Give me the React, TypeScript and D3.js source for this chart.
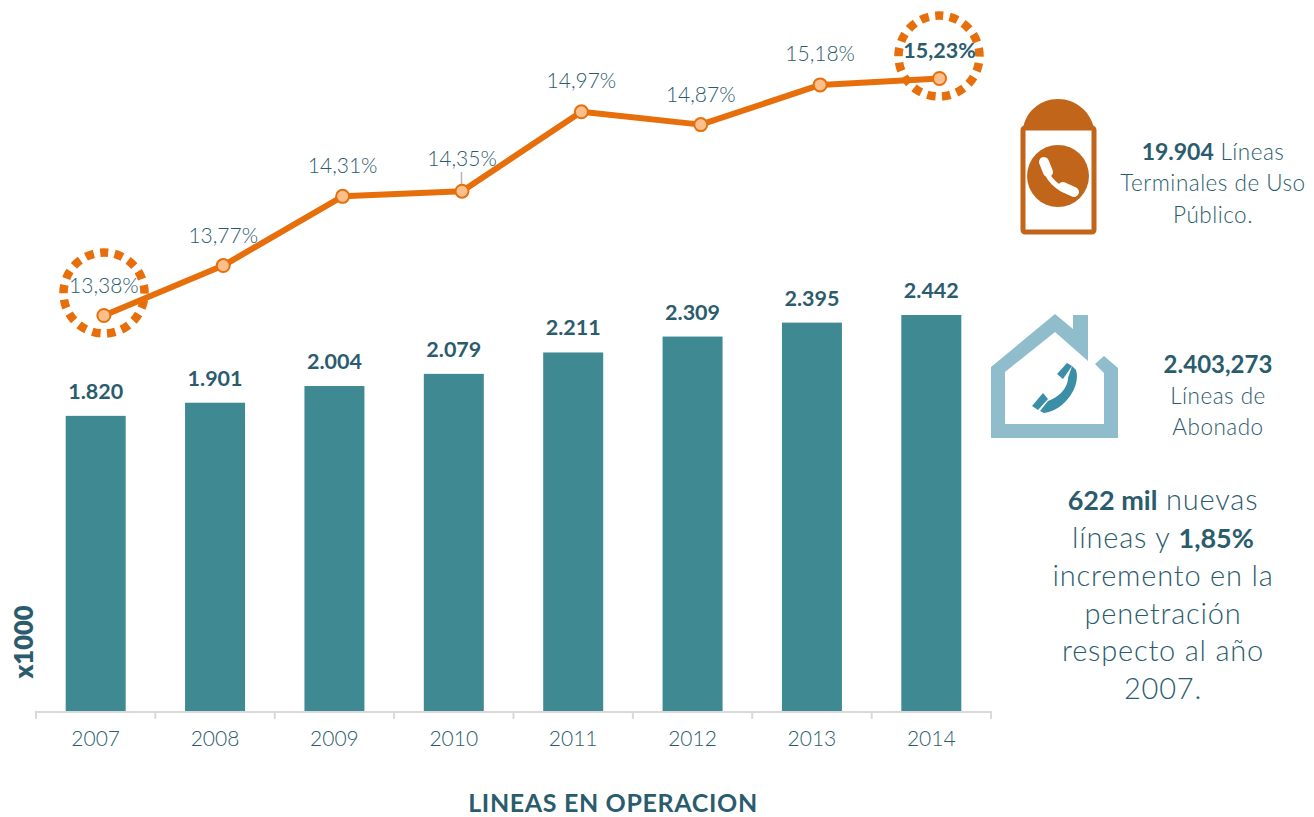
import React from "react";
import * as d3 from "d3";

const years = ["2007", "2008", "2009", "2010", "2011", "2012", "2013", "2014"];
const lines = [1820, 1901, 2004, 2079, 2211, 2309, 2395, 2442];
const lineLabels = ["1.820", "1.901", "2.004", "2.079", "2.211", "2.309", "2.395", "2.442"];
const penetration = [13.38, 13.77, 14.31, 14.35, 14.97, 14.87, 15.18, 15.23];
const penetrationLabels = ["13,38%", "13,77%", "14,31%", "14,35%", "14,97%", "14,87%", "15,18%", "15,23%"];
const labelDy = [-23, -23, -23, -25, -24, -23, -24, -21];

const FONT = "Lato, 'Open Sans', sans-serif";
const INK = "#2b5c6d";
const BAR = "#3f8a92";
const ORANGE = "#e76f0b";

function Ring({ cx, cy }: { cx: number; cy: number }) {
  const r = 40.5;
  const period = (2 * Math.PI * r) / 17;
  return (
    <circle cx={cx} cy={cy} r={r} fill="none" stroke={ORANGE} strokeWidth={8.5}
      strokeDasharray={`8.5 ${period - 8.5}`} strokeDashoffset={4.25}
      transform={`rotate(-90 ${cx} ${cy})`} />
  );
}

export default function App() {
  const x = d3.scaleBand<string>().domain(years).range([36, 991]).paddingInner(0).paddingOuter(0);
  const bw = x.bandwidth();
  const y = d3.scaleLinear().domain([0, 2442]).range([711, 315]);
  const yp = d3.scaleLinear().domain([13.38, 15.23]).range([315.5, 78.5]);
  const cx = (yr: string) => (x(yr) as number) + bw / 2;
  const lx = (yr: string) => cx(yr) + 8.2;
  const line = d3.line<number>().x((_, i) => lx(years[i])).y((d) => yp(d));
  const ticks = d3.range(0, years.length + 1).map((i) => 36 + i * bw);

  return (
    <svg width={1314} height={817} style={{ position: "absolute", left: 0, top: 0, fontFamily: FONT }}>
      <rect width={1314} height={817} fill="#fff" />
      {years.map((yr, i) => (
        <rect key={yr} x={cx(yr) - 30} y={y(lines[i])} width={60} height={711 - y(lines[i])} fill={BAR} />
      ))}
      <path d={`M36 719V712H991V719`} fill="none" stroke="#d9d9d9" strokeWidth={2} />
      {ticks.slice(1, -1).map((t) => (
        <line key={t} x1={t} x2={t} y1={712} y2={719} stroke="#d9d9d9" strokeWidth={2} />
      ))}
      {years.map((yr) => (
        <text key={yr} x={cx(yr)} y={746} textAnchor="middle" fontSize={21} fill={INK} style={{ fontWeight: 300 }}>{yr}</text>
      ))}
      {years.map((yr, i) => (
        <text key={yr} x={cx(yr)} y={y(lines[i]) - 17} textAnchor="middle" fontSize={21.5} fontWeight={700} fill={INK}>{lineLabels[i]}</text>
      ))}

      <line x1={461.5} x2={461.5} y1={172} y2={190} stroke="#b4b4b4" strokeWidth={1.5} />
      <path d={line(penetration) as string} fill="none" stroke={ORANGE} strokeWidth={6} strokeLinejoin="round" />
      <Ring cx={104} cy={293} />
      <Ring cx={939} cy={56} />
      {years.map((yr, i) => (
        <circle key={yr} cx={lx(yr)} cy={yp(penetration[i])} r={6.5} fill="#fbbf8c" stroke={ORANGE} strokeWidth={2} />
      ))}
      {years.map((yr, i) => (
        <text key={yr} x={lx(yr)} y={yp(penetration[i]) + labelDy[i]} textAnchor="middle" fontSize={i === 7 ? 21.5 : 21}
          style={{ fontWeight: i === 7 ? 700 : 300 }} fill={INK}>{penetrationLabels[i]}</text>
      ))}

      <text transform="translate(33,642) rotate(-90)" textAnchor="middle" fontSize={25.5} fontWeight={800} fill={INK}>x1000</text>
      <text x={613} y={812} textAnchor="middle" fontSize={25} fontWeight={700} fill={INK} letterSpacing={0.65}>LINEAS EN OPERACION</text>

      {/* payphone icon */}
      <rect x={1023} y={128} width={71} height={104} rx={2} fill="#fff" stroke="#c1651b" strokeWidth={5} />
      <path d="M1023 129C1025 112 1040 99 1058 99C1076 99 1091 112 1094 129Z" fill="#c1651b" />
      <circle cx={1058} cy={176} r={31} fill="#c1651b" />
      <path d="M1044 164C1046 178 1058 191 1074 192" fill="none" stroke="#fff" strokeWidth={5} />
      <path d="M1044 162L1048 172M1063 187L1074 192" fill="none" stroke="#fff" strokeWidth={10} strokeLinecap="round" />

      {/* house icon */}
      <path d="M991 367L1055 314L1073 329V315H1088V361L1055 332L1005 372V424H1104V373L1095 364L1104 356L1118 368V438H991Z" fill="#8fbdcb" />
      <path d="M1072 366L1076 370C1081 385 1066 410 1044 413L1040 411L1048 401C1058 398 1068 388 1068 378Z" fill="#3a8ea6" />
      <path d="M1057 374L1067 363L1072 366L1063 379Z" fill="#3a8ea6" />
      <path d="M1032 406L1043 393L1048 399L1038 410Z" fill="#3a8ea6" />

      <g textAnchor="middle" fill={INK} fontSize={22.5} letterSpacing={0.5} style={{ fontWeight: 300 }}>
        <text x={1213} y={160}><tspan fontSize={23} letterSpacing={0} style={{ fontWeight: 700 }}>19.904</tspan> Líneas</text>
        <text x={1213} y={191}>Terminales de Uso</text>
        <text x={1213} y={223}>Público.</text>
        <text x={1218} y={373} fontSize={24} letterSpacing={0} style={{ fontWeight: 700 }}>2.403,273</text>
        <text x={1218} y={404}>Líneas de</text>
        <text x={1218} y={435}>Abonado</text>
      </g>
      <g textAnchor="middle" fill={INK} fontSize={29} letterSpacing={0.8} style={{ fontWeight: 300 }}>
        <text x={1163} y={510}><tspan fontSize={27} letterSpacing={0} style={{ fontWeight: 700 }}>622 mil</tspan> nuevas</text>
        <text x={1163} y={548}>líneas y <tspan fontSize={27} letterSpacing={0} style={{ fontWeight: 700 }}>1,85%</tspan></text>
        <text x={1163} y={586}>incremento en la</text>
        <text x={1163} y={624}>penetración</text>
        <text x={1163} y={661}>respecto al año</text>
        <text x={1163} y={699}>2007.</text>
      </g>
    </svg>
  );
}
